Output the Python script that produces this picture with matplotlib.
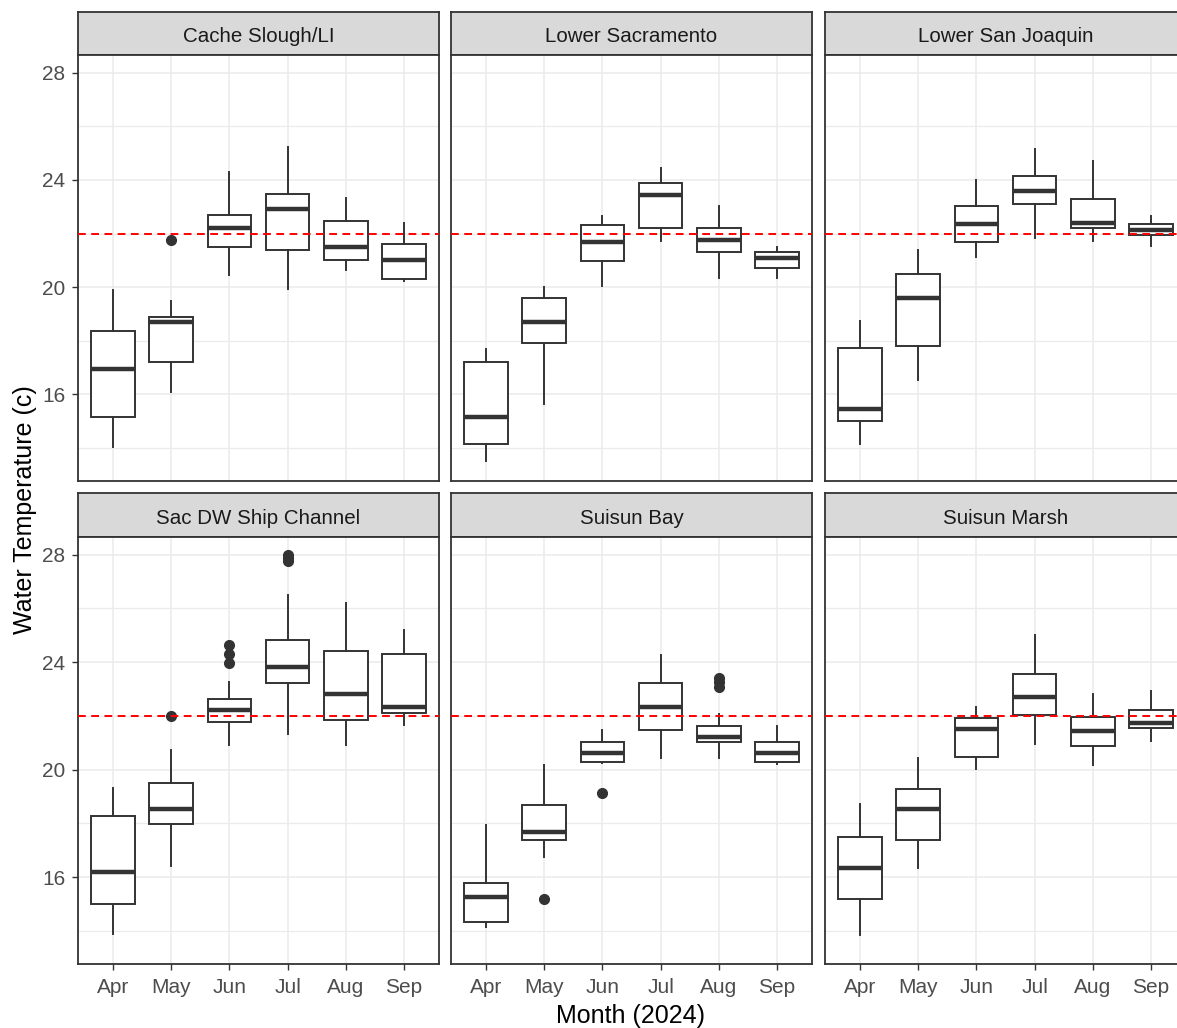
import numpy as np
import matplotlib
matplotlib.use("Agg")
import matplotlib.pyplot as plt

plt.rcParams["font.family"] = ["Liberation Sans", "DejaVu Sans"]

#: categories
months = ["Apr", "May", "Jun", "Jul", "Aug", "Sep"]
sites = [
    "Cache Slough/LI",
    "Lower Sacramento",
    "Lower San Joaquin",
    "Sac DW Ship Channel",
    "Suisun Bay",
    "Suisun Marsh",
]
threshold = 22.0

#: box statistics (one value per month)
whisker_low = {
    "Cache Slough/LI": [14.02, 16.10, 20.46, 19.94, 20.65, 20.24],
    "Lower Sacramento": [13.53, 15.63, 20.05, 21.74, 20.36, 20.36],
    "Lower San Joaquin": [14.14, 16.53, 21.13, 21.84, 21.74, 21.54],
    "Sac DW Ship Channel": [13.90, 16.41, 20.93, 21.34, 20.93, 21.65],
    "Suisun Bay": [14.15, 16.77, 20.26, 20.45, 20.45, 20.22],
    "Suisun Marsh": [13.85, 16.35, 20.04, 20.94, 20.17, 21.06],
}
quart_low = {
    "Cache Slough/LI": [15.17, 17.21, 21.50, 21.39, 21.02, 20.31],
    "Lower Sacramento": [14.15, 17.91, 20.96, 22.21, 21.31, 20.72],
    "Lower San Joaquin": [14.99, 17.80, 21.68, 23.12, 22.21, 21.94],
    "Sac DW Ship Channel": [14.99, 17.97, 21.79, 23.21, 21.85, 22.10],
    "Suisun Bay": [14.32, 17.38, 20.30, 21.48, 21.02, 20.30],
    "Suisun Marsh": [15.19, 17.38, 20.48, 22.05, 20.89, 21.55],
}
median = {
    "Cache Slough/LI": [16.96, 18.71, 22.22, 22.93, 21.50, 21.02],
    "Lower Sacramento": [15.17, 18.69, 21.68, 23.42, 21.75, 21.09],
    "Lower San Joaquin": [15.47, 19.60, 22.34, 23.59, 22.41, 22.13],
    "Sac DW Ship Channel": [16.19, 18.52, 22.22, 23.83, 22.81, 22.35],
    "Suisun Bay": [15.25, 17.69, 20.61, 22.34, 21.20, 20.61],
    "Suisun Marsh": [16.36, 18.52, 21.51, 22.70, 21.43, 21.74],
}
quart_high = {
    "Cache Slough/LI": [18.38, 18.87, 22.69, 23.47, 22.46, 21.60],
    "Lower Sacramento": [17.21, 19.59, 22.32, 23.89, 22.21, 21.32],
    "Lower San Joaquin": [17.74, 20.48, 23.04, 24.13, 23.28, 22.34],
    "Sac DW Ship Channel": [18.26, 19.52, 22.63, 24.83, 24.41, 24.30],
    "Suisun Bay": [15.77, 18.70, 21.02, 23.21, 21.61, 21.02],
    "Suisun Marsh": [17.48, 19.28, 21.91, 23.57, 21.97, 22.21],
}
whisker_high = {
    "Cache Slough/LI": [19.90, 19.49, 24.31, 25.22, 23.31, 22.41],
    "Lower Sacramento": [17.70, 20.02, 22.66, 24.44, 23.01, 21.51],
    "Lower San Joaquin": [18.72, 21.40, 24.00, 25.16, 24.72, 22.65],
    "Sac DW Ship Channel": [19.32, 20.75, 23.25, 26.52, 26.22, 25.21],
    "Suisun Bay": [17.94, 20.19, 21.46, 24.26, 22.09, 21.64],
    "Suisun Marsh": [18.71, 20.43, 22.35, 25.03, 22.81, 22.94],
}
outliers = {
    "Cache Slough/LI": [[], [21.76], [], [], [], []],
    "Lower Sacramento": [[], [], [], [], [], []],
    "Lower San Joaquin": [[], [], [], [], [], []],
    "Sac DW Ship Channel": [[], [22.0], [23.96, 24.30, 24.65], [27.75, 27.88, 28.0], [], []],
    "Suisun Bay": [[], [15.20], [19.14], [], [23.08, 23.25, 23.42], []],
    "Suisun Marsh": [[], [], [], [], [], []],
}

#: layout (pixels)
W, H = 1177, 1028
col_x = [78, 451, 825]
panel_w = 361
rows = [(12, 55, 481), (493, 537, 964)]

DARK = "#333333"
GRID = "#EBEBEB"


def frac(x0, y0, x1, y1):
    return [x0 / W, 1 - y1 / H, (x1 - x0) / W, (y1 - y0) / H]


fig = plt.figure(figsize=(W / 100, H / 100), dpi=100)

for i, site in enumerate(sites):
    r, c = divmod(i, 3)
    x0 = col_x[c]
    s_top, p_top, p_bot = rows[r]

    #: strip
    sax = fig.add_axes(frac(x0, s_top, x0 + panel_w, p_top))
    sax.set_facecolor("#D9D9D9")
    sax.set_xticks([])
    sax.set_yticks([])
    for sp in sax.spines.values():
        sp.set_color(DARK)
        sp.set_linewidth(1.3)
    sax.text(0.5, 0.42, site, ha="center", va="center", fontsize=14.8,
             color="#1A1A1A", transform=sax.transAxes)

    #: panel
    ax = fig.add_axes(frac(x0, p_top, x0 + panel_w, p_bot))
    stats = []
    for m in range(len(months)):
        stats.append(dict(
            whislo=whisker_low[site][m],
            q1=quart_low[site][m],
            med=median[site][m],
            q3=quart_high[site][m],
            whishi=whisker_high[site][m],
            fliers=outliers[site][m],
        ))
    pos = np.arange(1, len(months) + 1)
    ax.bxp(
        stats, positions=pos, widths=0.75, showcaps=False, patch_artist=True,
        boxprops=dict(facecolor="white", edgecolor=DARK, linewidth=1.4),
        whiskerprops=dict(color=DARK, linewidth=1.4),
        medianprops=dict(color=DARK, linewidth=3.2, solid_capstyle="butt"),
        flierprops=dict(marker="o", markersize=7, markerfacecolor=DARK,
                        markeredgecolor=DARK),
        zorder=2,
    )
    ax.axhline(threshold, color="red", linestyle=(0, (4, 2.8)), linewidth=1.4,
               zorder=3)

    ax.set_xlim(0.4, 6.6)
    ax.set_ylim(12.77, 28.66)
    ax.set_yticks([16, 20, 24, 28])
    ax.set_yticks([14, 18, 22, 26], minor=True)
    ax.set_xticks(pos)
    ax.set_xticklabels(months)
    ax.grid(which="major", color=GRID, linewidth=1.1, zorder=0)
    ax.grid(which="minor", axis="y", color=GRID, linewidth=0.9, zorder=0)
    ax.set_axisbelow(True)
    for sp in ax.spines.values():
        sp.set_color(DARK)
        sp.set_linewidth(1.3)
    ax.tick_params(which="minor", length=0)
    ax.tick_params(which="major", color=DARK, length=4, width=1.0,
                   labelsize=15, labelcolor="#4D4D4D")
    ax.tick_params(axis="y", pad=5)
    ax.tick_params(axis="x", pad=6)
    if r == 0:
        ax.tick_params(axis="x", bottom=False, labelbottom=False)
    if c != 0:
        ax.tick_params(axis="y", left=False, labelleft=False)

fig.text(631 / W, 1 - 1016 / H, "Month (2024)", ha="center", va="center",
         fontsize=18)
fig.text(25 / W, 1 - 510 / H, "Water Temperature (c)", ha="center",
         va="center", rotation=90, fontsize=18)

fig.savefig("out.png", dpi=100)
